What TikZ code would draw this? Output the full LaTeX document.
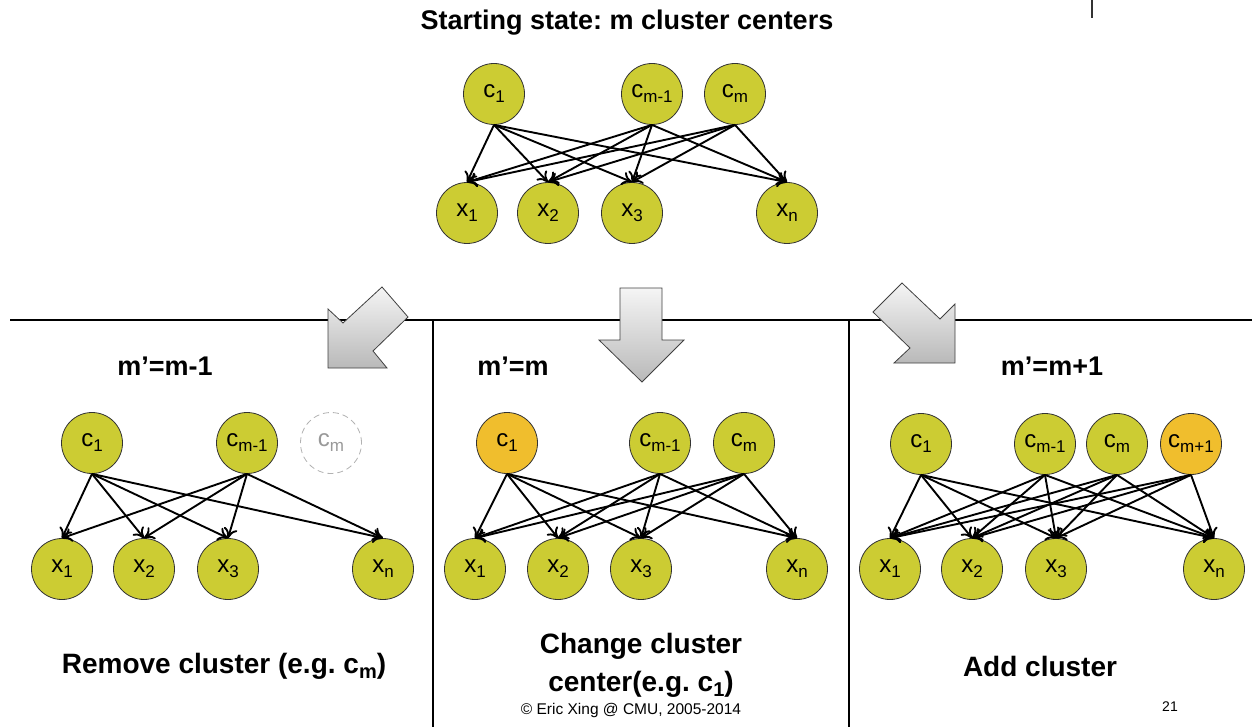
\documentclass[tikz,border=0pt]{standalone}
\usepackage{fontspec}
\setmainfont{Liberation Sans}
\usetikzlibrary{arrows.meta}
\definecolor{nodeyel}{RGB}{204,204,51}
\definecolor{nodeorg}{RGB}{240,190,45}
\newcommand{\sbx}[1]{\raisebox{-0.4ex}{\fontsize{17}{17}\selectfont #1}}
\tikzset{
  cnode/.style={circle, draw=black!80, line width=0.8pt, fill=nodeyel, minimum size=61pt, inner sep=0pt, font=\fontsize{24}{24}\selectfont},
  onode/.style={cnode, fill=nodeorg},
  ghost/.style={cnode, fill=none, draw=gray!60, dashed, dash pattern=on 6pt off 4pt, text=gray!80},
  edge/.style={draw=black, line width=1.9pt, -{To[length=10pt,width=14pt]}},
  panel/.style={line width=1.8pt, draw=black},
  bigarrow/.style={draw=black!75, line width=0.8pt, top color=gray!8, bottom color=gray!55},
  head/.style={font=\bfseries\fontsize{27}{30}\selectfont},
  foot/.style={font=\bfseries\fontsize{28}{38}\selectfont, align=center},
}
\begin{document}
\frenchspacing
\begin{tikzpicture}[x=1pt,y=-1pt]
\useasboundingbox (0,0) rectangle (1252,727);

% title
\node[head] (title) at (627,23) {Starting state: m cluster centers};
\coordinate (tickA) at (1092,0);
\coordinate (tickB) at (1092,18);
\draw[line width=1.2pt, black!80] (tickA) -- (tickB);

% top graph
\node[cnode] (t-c1) at (494,94) {c\sbx{1}};
\node[cnode] (t-cm1) at (652,94) {c\sbx{m-1}};
\node[cnode] (t-cm) at (735,94) {c\sbx{m}};
\node[cnode] (t-x1) at (467,213) {x\sbx{1}};
\node[cnode] (t-x2) at (548,213) {x\sbx{2}};
\node[cnode] (t-x3) at (632,213) {x\sbx{3}};
\node[cnode] (t-xn) at (787,213) {x\sbx{n}};
\foreach \c in {t-c1,t-cm1,t-cm}
  \foreach \x in {t-x1,t-x2,t-x3,t-xn}
    \draw[edge] (\c.south) -- (\x.north);

% panel lines
\coordinate (hL) at (10,320);
\coordinate (hR) at (1252,320);
\coordinate (v1t) at (433,320);
\coordinate (v1b) at (433,727);
\coordinate (v2t) at (849,320);
\coordinate (v2b) at (849,727);
\draw[panel] (hL) -- (hR);
\draw[panel] (v1t) -- (v1b);
\draw[panel] (v2t) -- (v2b);

% big arrows
\shade[bigarrow] (328,368) -- (328,309) -- (343,323) -- (382,287) -- (408,317) -- (373,351) -- (387,368) -- cycle;
\shade[bigarrow] (620,288) -- (662,288) -- (662,340) -- (684,340) -- (642,382) -- (599,340) -- (620,340) -- cycle;
\shade[bigarrow] (955,363) -- (955,304) -- (940,319) -- (902,283) -- (873,312) -- (910,348) -- (894,363) -- cycle;

% panel headings
\node[head] (h1) at (165,366) {m’=m-1};
\node[head] (h2) at (513,366) {m’=m};
\node[head] (h3) at (1052,366) {m’=m+1};

% left graph
\node[cnode] (l-c1) at (92,443) {c\sbx{1}};
\node[cnode] (l-cm1) at (247,443) {c\sbx{m-1}};
\node[ghost] (l-cm) at (331,443) {c\sbx{m}};
\node[cnode] (l-x1) at (62,569) {x\sbx{1}};
\node[cnode] (l-x2) at (144,569) {x\sbx{2}};
\node[cnode] (l-x3) at (228,569) {x\sbx{3}};
\node[cnode] (l-xn) at (383,569) {x\sbx{n}};
\foreach \c in {l-c1,l-cm1}
  \foreach \x in {l-x1,l-x2,l-x3,l-xn}
    \draw[edge] (\c.south) -- (\x.north);

% middle graph
\node[onode] (m-c1) at (507,443) {c\sbx{1}};
\node[cnode] (m-cm1) at (660,443) {c\sbx{m-1}};
\node[cnode] (m-cm) at (744,443) {c\sbx{m}};
\node[cnode] (m-x1) at (475,569) {x\sbx{1}};
\node[cnode] (m-x2) at (558,569) {x\sbx{2}};
\node[cnode] (m-x3) at (641,569) {x\sbx{3}};
\node[cnode] (m-xn) at (797,569) {x\sbx{n}};
\foreach \c in {m-c1,m-cm1,m-cm}
  \foreach \x in {m-x1,m-x2,m-x3,m-xn}
    \draw[edge] (\c.south) -- (\x.north);

% right graph
\node[cnode] (r-c1) at (921,444) {c\sbx{1}};
\node[cnode] (r-cm1) at (1045,444) {c\sbx{m-1}};
\node[cnode] (r-cm) at (1117,444) {c\sbx{m}};
\node[onode] (r-cm2) at (1191,444) {c\sbx{m+1}};
\node[cnode] (r-x1) at (890,569) {x\sbx{1}};
\node[cnode] (r-x2) at (972,569) {x\sbx{2}};
\node[cnode] (r-x3) at (1056,569) {x\sbx{3}};
\node[cnode] (r-xn) at (1214,569) {x\sbx{n}};
\foreach \c in {r-c1,r-cm1,r-cm,r-cm2}
  \foreach \x in {r-x1,r-x2,r-x3,r-xn}
    \draw[edge] (\c.south) -- (\x.north);

% footers
\node[foot] (f1) at (224,666) {Remove cluster (e.g. c\raisebox{-0.35ex}{\fontsize{20}{20}\selectfont m})};
\node[foot] (f2) at (641,665) {Change cluster\\center(e.g. c\raisebox{-0.35ex}{\fontsize{20}{20}\selectfont 1})};
\node[foot] (f3) at (1040,666) {Add cluster};
\node[font=\fontsize{15.5}{17}\selectfont] (copy) at (631,710) {© Eric Xing @ CMU, 2005-2014};
\node[font=\fontsize{14}{16}\selectfont] (page) at (1170,707) {21};
\end{tikzpicture}
\end{document}
